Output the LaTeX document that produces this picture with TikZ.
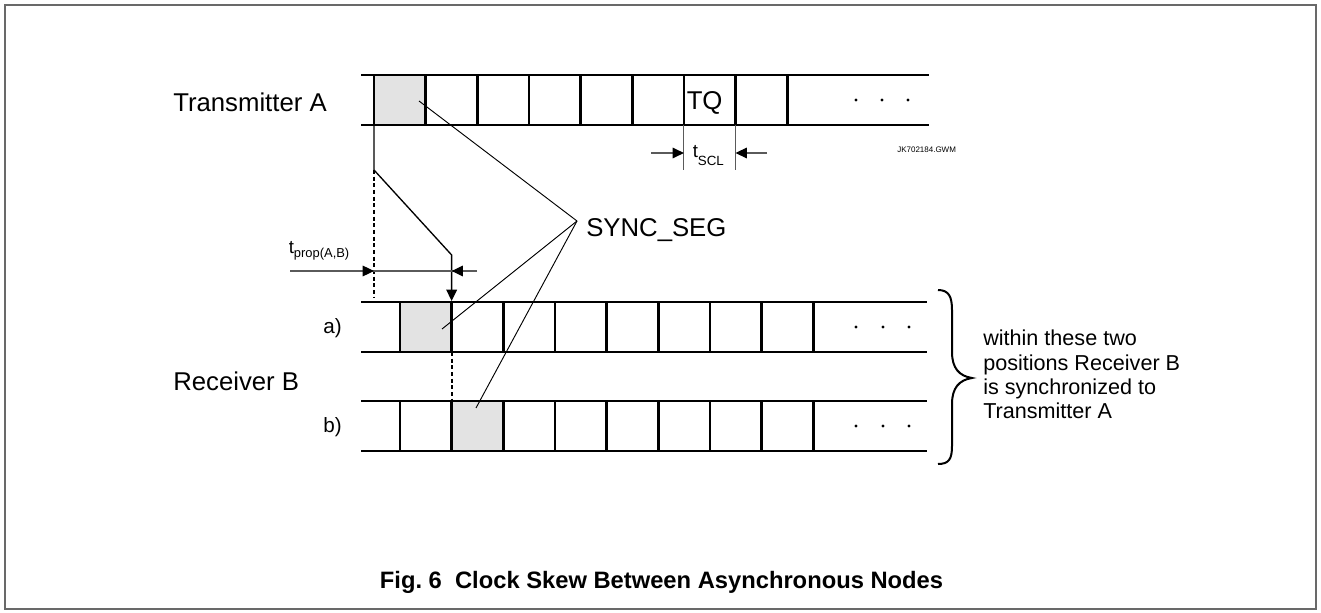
\documentclass[tikz,border=0pt]{standalone}
\usepackage{fontspec}
\setmainfont{Liberation Sans}
\usetikzlibrary{arrows.meta}
\definecolor{cellgray}{RGB}{227,227,227}
\definecolor{framegray}{RGB}{105,105,105}
\definecolor{dimgray}{RGB}{90,90,90}
\tikzset{
  rail/.style={line width=2.2pt},
  cellline/.style={line width=2pt},
  leader/.style={line width=0.7pt},
  dropline/.style={line width=1pt},
  dotline/.style={line width=1.5pt, dash pattern=on 3pt off 2pt},
  dimline/.style={line width=0.9pt, draw=dimgray},
  marker/.style={line width=0.7pt, draw=dimgray},
  tiparrow/.style={-{Triangle[length=8.5pt,width=8pt,color=black]}},
  biglabel/.style={inner sep=0pt, font=\fontsize{19.3}{23}\selectfont},
  smalllabel/.style={inner sep=0pt, font=\fontsize{15.5}{18}\selectfont},
  sidelabel/.style={inner sep=0pt, font=\fontsize{16.2}{18.3}\selectfont},
  tlabel/.style={inner sep=0pt, font=\fontsize{14}{16}\selectfont},
}
\begin{document}
\begin{tikzpicture}[x=0.75pt,y=-0.75pt]
\useasboundingbox (0,0) rectangle (1321,613);
\draw[framegray, line width=1.2pt] (5,5) rectangle (1316,609);

% ---------- Transmitter A row ----------
\fill[cellgray] (374,75) rectangle (425.65,125);
\draw[rail] (361,75) -- (929,75) (361,125) -- (929,125);
\foreach \k in {0,...,8} \draw[cellline] ({374+\k*51.65},75) -- ({374+\k*51.65},125);
\foreach \x in {856,882,908} \fill (\x,100) circle (1.7);
\node[biglabel, anchor=base west] (tx) at (173,111.7) {Transmitter A};
\node[biglabel, anchor=base west] (tq) at (686.5,110) {TQ};

% t_SCL
\coordinate (sclL) at (683.9,125);
\coordinate (sclR) at (735.55,125);
\coordinate (sclLb) at (683.9,170);
\coordinate (sclRb) at (735.55,170);
\draw[marker] (sclL) -- (sclLb);
\draw[marker] (sclR) -- (sclRb);
\coordinate (sclLa) at (651,153);
\coordinate (sclLt) at (683.9,153);
\coordinate (sclRa) at (767,153);
\coordinate (sclRt) at (735.55,153);
\draw[dimline, tiparrow] (sclLa) -- (sclLt);
\draw[dimline, tiparrow] (sclRa) -- (sclRt);
\node[tlabel, anchor=base west] (tscl) at (692.5,158) {t\raisebox{-6pt}{\fontsize{10}{10}\selectfont SCL}};
\node[inner sep=0pt, anchor=base west, font=\fontsize{6}{7}\selectfont] (jk) at (897,153) {JK702184.GWM};

% ---------- Receiver rows ----------
\fill[cellgray] (400,302) rectangle (451.65,352);
\draw[rail] (361,302) -- (927,302) (361,352) -- (927,352);
\foreach \k in {0,...,8} \draw[cellline] ({400+\k*51.65},302) -- ({400+\k*51.65},352);
\foreach \x in {856,883,909} \fill (\x,327) circle (1.7);

\fill[cellgray] (451.65,401) rectangle (503.3,451);
\draw[rail] (361,401) -- (927,401) (361,451) -- (927,451);
\foreach \k in {0,...,8} \draw[cellline] ({400+\k*51.65},401) -- ({400+\k*51.65},451);
\foreach \x in {856,883,909} \fill (\x,426) circle (1.7);

\node[smalllabel, anchor=base east] (la) at (342,333) {a)};
\node[smalllabel, anchor=base east] (lb) at (342,432) {b)};
\node[biglabel, anchor=base west] (rx) at (173,390.5) {Receiver B};

% ---------- propagation path ----------
\coordinate (dropTop) at (374,125);
\coordinate (dropBend) at (374,170);
\coordinate (dropKnee) at (451.65,255);
\coordinate (dropEnd) at (451.65,301);
\draw[dropline, tiparrow] (dropTop) -- (dropBend) -- (dropKnee) -- (dropEnd);
\coordinate (dotEnd) at (374,297);
\draw[dotline] (dropBend) -- (dotEnd);
\coordinate (dot2a) at (451.65,352);
\coordinate (dot2b) at (451.65,401);
\draw[dotline] (dot2a) -- (dot2b);

% t_prop dimension
\coordinate (propL) at (290,271);
\coordinate (propR) at (477,271);
\coordinate (propLt) at (374,271);
\coordinate (propRt) at (451.65,271);
\draw[dimline] (propL) -- (propR);
\draw[dimline, tiparrow] (propL) -- (propLt);
\draw[dimline, tiparrow] (propR) -- (propRt);
\node[tlabel, anchor=base west] (tprop) at (288.5,253) {t\raisebox{-3.5pt}{\fontsize{9.7}{10}\selectfont prop(A,B)}};

% ---------- SYNC_SEG leaders ----------
\node[biglabel, anchor=base west] (sync) at (586,236.5) {SYNC\_SEG};
\coordinate (syncP) at (577,221);
\coordinate (segA) at (419,101);
\coordinate (segRa) at (442,329);
\coordinate (segRb) at (476,408);
\draw[leader] (syncP) -- (segA);
\draw[leader] (syncP) -- (segRa);
\draw[leader] (syncP) -- (segRb);

% ---------- brace and note ----------
\draw[line width=1.5pt] (938,290) .. controls (949,290) and (952,297) .. (952,310)
  -- (952,352) .. controls (952,368) and (959,376) .. (972,378)
  .. controls (959,380) and (952,388) .. (952,404)
  -- (952,446) .. controls (952,459) and (949,464) .. (938,464);
\node[sidelabel, anchor=base west] (note) at (983,345.7)
  {\begin{tabular}[t]{@{}l@{}}within these two\\positions Receiver B\\is synchronized to\\Transmitter A\end{tabular}};

% ---------- caption ----------
\node[inner sep=0pt, anchor=base, font=\fontsize{17.8}{20}\selectfont\bfseries] (cap) at (661.5,588.3)
  {Fig.\ 6\ \ Clock Skew Between Asynchronous Nodes};
\end{tikzpicture}
\end{document}
